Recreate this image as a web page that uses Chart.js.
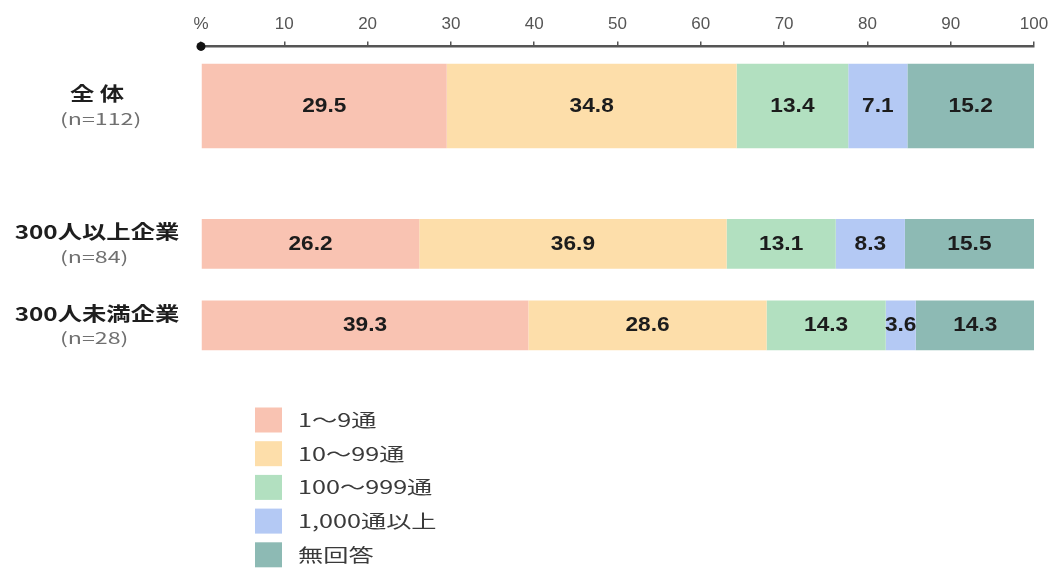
<!DOCTYPE html>
<html lang="ja">
<head>
<meta charset="utf-8">
<title>通数の分布</title>
<script src="https://cdn.jsdelivr.net/npm/chart.js@4"></script>
<style>
  html, body { margin: 0; padding: 0; background: #ffffff; }
  #wrap { width: 1061px; height: 571px; position: relative; }
</style>
</head>
<body>
<div id="wrap"><canvas id="chart"></canvas></div>
<script>
// Groups (rows) and their sample sizes
const groupLabels = ['全 体', '300人以上企業', '300人未満企業'];
const sampleSizes = ['(n=112)', '(n=84)', '(n=28)'];

// Series names (legend) and shares in % for each group
const seriesNames = ['1〜9通', '10〜99通', '100〜999通', '1,000通以上', '無回答'];
const share1to9 = [29.5, 26.2, 39.3];
const share10to99 = [34.8, 36.9, 28.6];
const share100to999 = [13.4, 13.1, 14.3];
const share1000plus = [7.1, 8.3, 3.6];
const shareNoAnswer = [15.2, 15.5, 14.3];

// Percentage axis ticks; the first one is drawn as the unit sign
const tickValues = [0, 10, 20, 30, 40, 50, 60, 70, 80, 90, 100];
const tickLabels = ['%', '10', '20', '30', '40', '50', '60', '70', '80', '90', '100'];

const seriesColors = ['#F9C3B2', '#FDDEAA', '#B2E0C0', '#B4C9F4', '#8DBAB4'];
const seriesValues = [share1to9, share10to99, share100to999, share1000plus, shareNoAnswer];

const CJK = '"Noto Sans CJK JP", "Noto Sans", sans-serif';
const LATIN = '"Liberation Sans", Arial, sans-serif';

// The overall row sits on its own band; the two company-size rows share another.
const datasets = [];
seriesNames.forEach((name, i) => {
  datasets.push({
    label: name,
    data: [seriesValues[i][0]],
    yAxisID: 'yAll',
    backgroundColor: seriesColors[i],
    borderWidth: 0,
    grouped: false,
    categoryPercentage: 1,
    barPercentage: 0.71
  });
});
seriesNames.forEach((name, i) => {
  datasets.push({
    label: name,
    data: seriesValues[i].slice(1),
    yAxisID: 'ySize',
    backgroundColor: seriesColors[i],
    borderWidth: 0,
    grouped: false,
    categoryPercentage: 1,
    barPercentage: 0.61
  });
});

function stretchedText(ctx, text, x, y, font, color, align, sx) {
  ctx.save();
  ctx.font = font;
  ctx.fillStyle = color;
  ctx.textAlign = align;
  ctx.textBaseline = 'middle';
  ctx.translate(x, y);
  ctx.scale(sx, 1);
  ctx.fillText(text, 0, 0);
  ctx.restore();
}

const decorations = {
  id: 'decorations',
  afterDraw(chart) {
    const ctx = chart.ctx;
    const xs = chart.scales.x;
    const area = chart.chartArea;

    // origin dot on the percentage axis
    ctx.save();
    ctx.fillStyle = '#111';
    ctx.beginPath();
    ctx.arc(xs.getPixelForValue(0), area.top, 4.5, 0, Math.PI * 2);
    ctx.fill();
    ctx.restore();

    // values inside the segments
    chart.data.datasets.forEach((ds, di) => {
      const meta = chart.getDatasetMeta(di);
      meta.data.forEach((bar, j) => {
        const c = bar.getCenterPoint();
        stretchedText(ctx, ds.data[j].toFixed(1), c.x, c.y,
          'bold 21px ' + LATIN, '#1c1c1c', 'center', 1.08);
      });
    });

    // row labels: group name centred, sample size below it
    const rows = [
      { scale: chart.scales.yAll, idx: 0 },
      { scale: chart.scales.ySize, idx: 0 },
      { scale: chart.scales.ySize, idx: 1 }
    ];
    rows.forEach((r, k) => {
      const cy = r.scale.getPixelForValue(r.idx);
      stretchedText(ctx, groupLabels[k], 97, cy - 12,
        'bold 19px ' + CJK, '#1e1e1e', 'center', 1.28);
      stretchedText(ctx, sampleSizes[k], 60, cy + 13,
        '16px ' + CJK, '#707070', 'left', 1.45);
    });

    // legend, one entry per line
    const lx = 255, ly = 420, step = 33.7;
    seriesNames.forEach((name, i) => {
      const y = ly + i * step;
      ctx.fillStyle = seriesColors[i];
      ctx.fillRect(lx, y - 12.5, 27, 25);
      stretchedText(ctx, name, lx + 43, y, '18px ' + CJK, '#3a3a3a', 'left', 1.4);
    });
  }
};

new Chart(document.getElementById('chart'), {
  type: 'bar',
  data: { labels: groupLabels, datasets },
  options: {
    indexAxis: 'y',
    responsive: true,
    maintainAspectRatio: false,
    animation: false,
    layout: { padding: { left: 201, right: 27, top: 7, bottom: 205 } },
    plugins: {
      legend: { display: false },
      tooltip: { enabled: false }
    },
    scales: {
      x: {
        position: 'top',
        stacked: true,
        min: 0,
        max: 100,
        afterBuildTicks(scale) {
          scale.ticks = tickValues.map(v => ({ value: v }));
        },
        ticks: {
          callback: (v) => tickLabels[tickValues.indexOf(v)],
          font: { family: 'Liberation Sans', size: 17 },
          color: '#555',
          padding: 7,
          maxRotation: 0
        },
        grid: { drawOnChartArea: false, drawTicks: true, tickLength: 5, color: '#555', lineWidth: 1.5 },
        border: { display: true, color: '#555', width: 2.5 }
      },
      yAll: {
        type: 'category',
        labels: [groupLabels[0]],
        position: 'left',
        stack: 'rows',
        stackWeight: 120,
        weight: 3,
        stacked: true,
        display: false
      },
      yGap: {
        type: 'category',
        labels: [''],
        position: 'left',
        stack: 'rows',
        stackWeight: 38,
        weight: 2,
        display: false
      },
      ySize: {
        type: 'category',
        labels: groupLabels.slice(1),
        position: 'left',
        stack: 'rows',
        stackWeight: 164,
        weight: 1,
        stacked: true,
        display: false
      }
    }
  },
  plugins: [decorations]
});
</script>
</body>
</html>
